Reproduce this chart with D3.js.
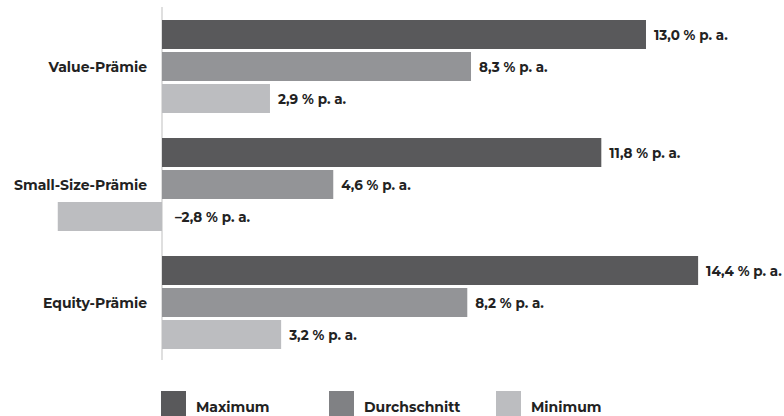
<!DOCTYPE html>
<html>
<head>
<meta charset="utf-8">
<script src="https://cdn.jsdelivr.net/npm/d3@7/dist/d3.min.js"></script>
<style>
  html, body { margin: 0; padding: 0; background: #fff; }
  svg { display: block; }
  text { font-family: "Montserrat", "Open Sans", "Noto Sans", sans-serif; font-weight: 700; fill: #222; }
</style>
</head>
<body>
<svg id="chart" width="784" height="416"></svg>
<script>
// Factor premia, % p. a.
const categories = ["Value-Prämie", "Small-Size-Prämie", "Equity-Prämie"];
const seriesNames = ["Maximum", "Durchschnitt", "Minimum"];
const maximum = [13.0, 11.8, 14.4];
const durchschnitt = [8.3, 4.6, 8.2];
const minimum = [2.9, -2.8, 3.2];

const barColors = ["#59595b", "#939497", "#bcbdc0"];
const legendColors = ["#59595b", "#808184", "#bcbdc0"];

const seriesValues = [maximum, durchschnitt, minimum];
const rows = categories.flatMap((c, i) =>
  seriesNames.map((s, j) => ({ category: c, series: s, value: seriesValues[j][i], idx: j })));

const svg = d3.select("#chart");

const x = d3.scaleLinear().domain([0, 14.4]).range([162, 162 + 14.4 * 37.23]);

const y0 = d3.scaleBand().domain(categories).range([20, 349]).paddingInner(25 / 118).paddingOuter(0);
const y1 = d3.scaleBand().domain(seriesNames).range([0, y0.bandwidth()]).paddingInner(3 / 32).paddingOuter(0);

// baseline axis
svg.append("line")
  .attr("x1", x(0)).attr("x2", x(0))
  .attr("y1", 7).attr("y2", 360)
  .attr("stroke", "#d4d4d4").attr("stroke-width", 1.5);

const fmt = v => (v < 0 ? "\u2013" : "") + d3.format(".1f")(Math.abs(v)).replace(".", ",") + " % p. a.";

const bars = svg.append("g");
bars.selectAll("rect").data(rows).join("rect")
  .attr("x", d => x(Math.min(0, d.value)))
  .attr("width", d => Math.abs(x(d.value) - x(0)))
  .attr("y", d => y0(d.category) + y1(d.series))
  .attr("height", y1.bandwidth())
  .attr("fill", d => barColors[d.idx]);

svg.append("g").selectAll("text").data(rows).join("text")
  .attr("x", d => d.value >= 0 ? x(d.value) + 8 : x(0) + 13)
  .attr("y", d => y0(d.category) + y1(d.series) + y1.bandwidth() / 2 + 5)
  .attr("font-size", 13.5)
  .text(d => fmt(d.value));

// category labels
svg.append("g").selectAll("text").data(categories).join("text")
  .attr("x", 147)
  .attr("y", d => y0(d) + y0.bandwidth() / 2 + 5)
  .attr("text-anchor", "end")
  .attr("font-size", 14)
  .text(d => d);

// legend
const legendX = [161, 329, 496];
const lg = svg.append("g").selectAll("g").data(seriesNames).join("g")
  .attr("transform", (d, i) => `translate(${legendX[i]},391)`);
lg.append("rect").attr("width", 25).attr("height", 25).attr("fill", (d, i) => legendColors[i]);
lg.append("text").attr("x", 35).attr("y", 21).attr("font-size", 14).text(d => d);
</script>
</body>
</html>
